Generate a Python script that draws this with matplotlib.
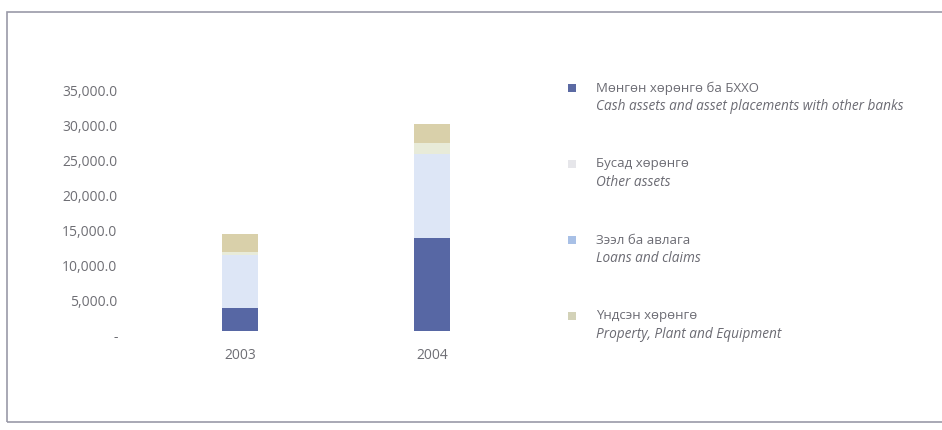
import numpy as np
import matplotlib
matplotlib.use('Agg')
import matplotlib.pyplot as plt
from matplotlib.patches import Rectangle
from matplotlib.transforms import ScaledTranslation

plt.rcParams['font.family'] = ['Open Sans', 'DejaVu Sans']

# data
years = ['2003', '2004']
cash = [3300, 13300]       # Мөнгөн хөрөнгө ба БХХО
loans = [7600, 12000]      # Зээл ба авлага
other = [400, 1700]        # Бусад хөрөнгө
ppe = [2600, 2700]         # Үндсэн хөрөнгө
yticks = [0, 5000, 10000, 15000, 20000, 25000, 30000, 35000]

bar_colors = ['#5767a4', '#dde6f6', '#e8ebd9', '#d9d0aa']
legend_colors = ['#5b6aa3', '#e6e6ea', '#a8c0e6', '#d3d2b8']
legend_mn = ['Мөнгөн хөрөнгө ба БХХО', 'Бусад хөрөнгө', 'Зээл ба авлага', 'Үндсэн хөрөнгө']
legend_en = ['Cash assets and asset placements with other banks', 'Other assets',
             'Loans and claims', 'Property, Plant and Equipment']

W, H = 942, 430
fig = plt.figure(figsize=(W / 100, H / 100), dpi=100)
fig.patch.set_facecolor('white')

# frame around the chart
fig.patches.append(Rectangle((7 / W, 8 / H), 940 / W, 410 / H, transform=fig.transFigure,
                             fill=False, edgecolor='#9a9aa8', linewidth=1.2))

ax = fig.add_axes([130 / W, 99 / H, 410 / W, 244.3 / H])
x = np.arange(len(years))
bottom = np.zeros(len(years))
for vals, c in zip([cash, loans, other, ppe], bar_colors):
    ax.bar(x, vals, width=0.19, bottom=bottom, color=c, edgecolor='none')
    bottom += np.array(vals)

ax.set_xlim(-0.573, 1.5625)
ax.set_ylim(0, 35000)
ax.set_yticks(yticks)
ax.set_yticklabels(['-' if v == 0 else f'{v:,.1f}' for v in yticks])
ax.set_xticks(x)
ax.set_xticklabels(years)
ax.tick_params(axis='y', length=0, pad=9, labelsize=10, labelcolor='#6e6e74')
ax.tick_params(axis='x', length=0, pad=12, labelsize=10, labelcolor='#6e6e74')
for lab in ax.get_yticklabels():
    lab.set_transform(lab.get_transform() + ScaledTranslation(0, -0.04, fig.dpi_scale_trans))
for s in ax.spines.values():
    s.set_visible(False)

# legend drawn by hand (two lines per item)
for i in range(4):
    y = 88 + i * 76
    fig.patches.append(Rectangle((568 / W, 1 - (y + 4) / H), 8 / W, 8 / H, transform=fig.transFigure,
                                 color=legend_colors[i], linewidth=0))
    fig.text(596 / W, 1 - y / H, legend_mn[i], fontsize=9.5, color='#6b6b73', va='center')
    fig.text(596 / W, 1 - (y + 19) / H, legend_en[i], fontsize=9.8, color='#6b6b73',
             va='center', style='italic')

fig.savefig('out.png', dpi=100)
